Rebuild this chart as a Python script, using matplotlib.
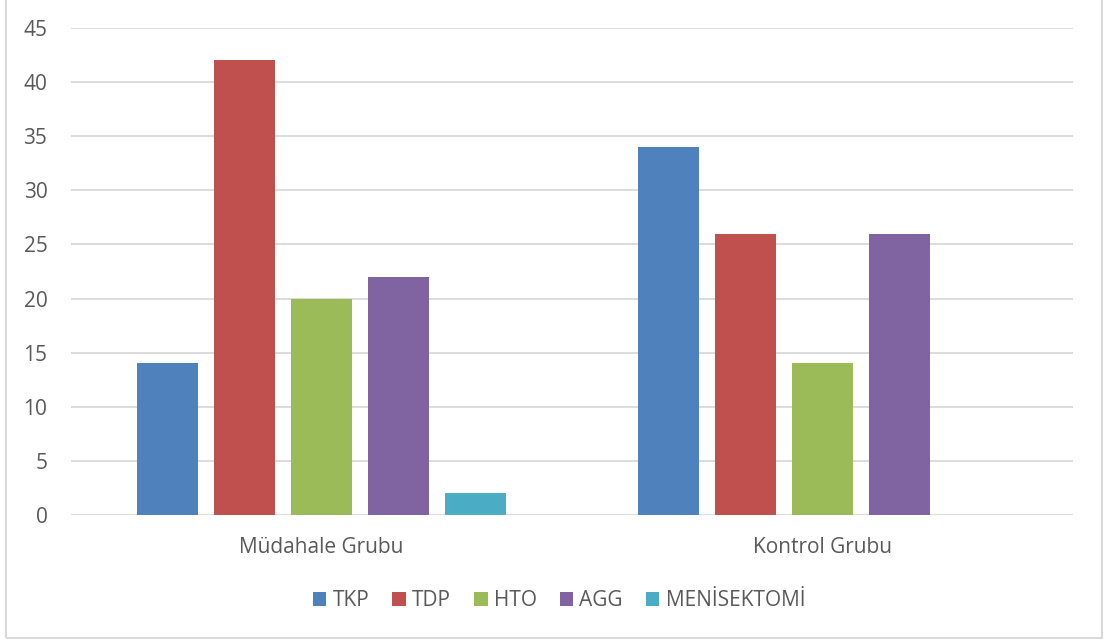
import matplotlib.pyplot as plt
import matplotlib.patches as mpatches
import numpy as np

plt.rcParams['font.family'] = ['Open Sans', 'DejaVu Sans']

# veri
gruplar = ['Müdahale Grubu', 'Kontrol Grubu']
seriler = ['TKP', 'TDP', 'HTO', 'AGG', 'MENİSEKTOMİ']
tkp = [14, 34]
tdp = [42, 26]
hto = [20, 14]
agg = [22, 26]
menisektomi = [2, 0]
renkler = ['#4F81BD', '#C0504D', '#9BBB59', '#8064A2', '#4BACC6']

degerler = [tkp, tdp, hto, agg, menisektomi]
yazi_rengi = '#595959'

fig = plt.figure(figsize=(11.07, 6.41), dpi=100)
ax = fig.add_axes([71 / 1107, 1 - 515 / 641, 1002 / 1107, 487 / 641])

x = np.arange(len(gruplar))
adim = 0.1537
genislik = 0.12
for i, (ad, v, c) in enumerate(zip(seriler, degerler, renkler)):
    ax.bar(x + (i - 2) * adim, v, genislik, color=c, label=ad, zorder=3)

ax.set_xlim(-0.5, 1.5)
ax.set_ylim(0, 45)
ax.set_yticks(np.arange(0, 46, 5))
ax.yaxis.grid(True, color='#D9D9D9', linewidth=1.3, zorder=0)
for s in ax.spines.values():
    s.set_visible(False)
ax.tick_params(axis='both', length=0, colors=yazi_rengi, labelsize=15)
ax.tick_params(axis='y', pad=17)
ax.tick_params(axis='x', pad=16)
ax.set_xticks(x)
ax.set_xticklabels(gruplar)

ax.legend(loc='center', bbox_to_anchor=(559 / 1107, 1 - 601 / 641),
          bbox_transform=fig.transFigure, ncol=5, frameon=False,
          fontsize=15, labelcolor=yazi_rengi, handlelength=0.65,
          handleheight=0.65, handletextpad=0.3, columnspacing=1.1)

# grafik çerçevesi
cerceve = mpatches.Rectangle((6 / 1107, 3 / 641), 1096 / 1107, 1.0,
                             transform=fig.transFigure, fill=False,
                             edgecolor='#D9D9D9', linewidth=1.5)
fig.patches.append(cerceve)

fig.savefig('out.png', dpi=100)
